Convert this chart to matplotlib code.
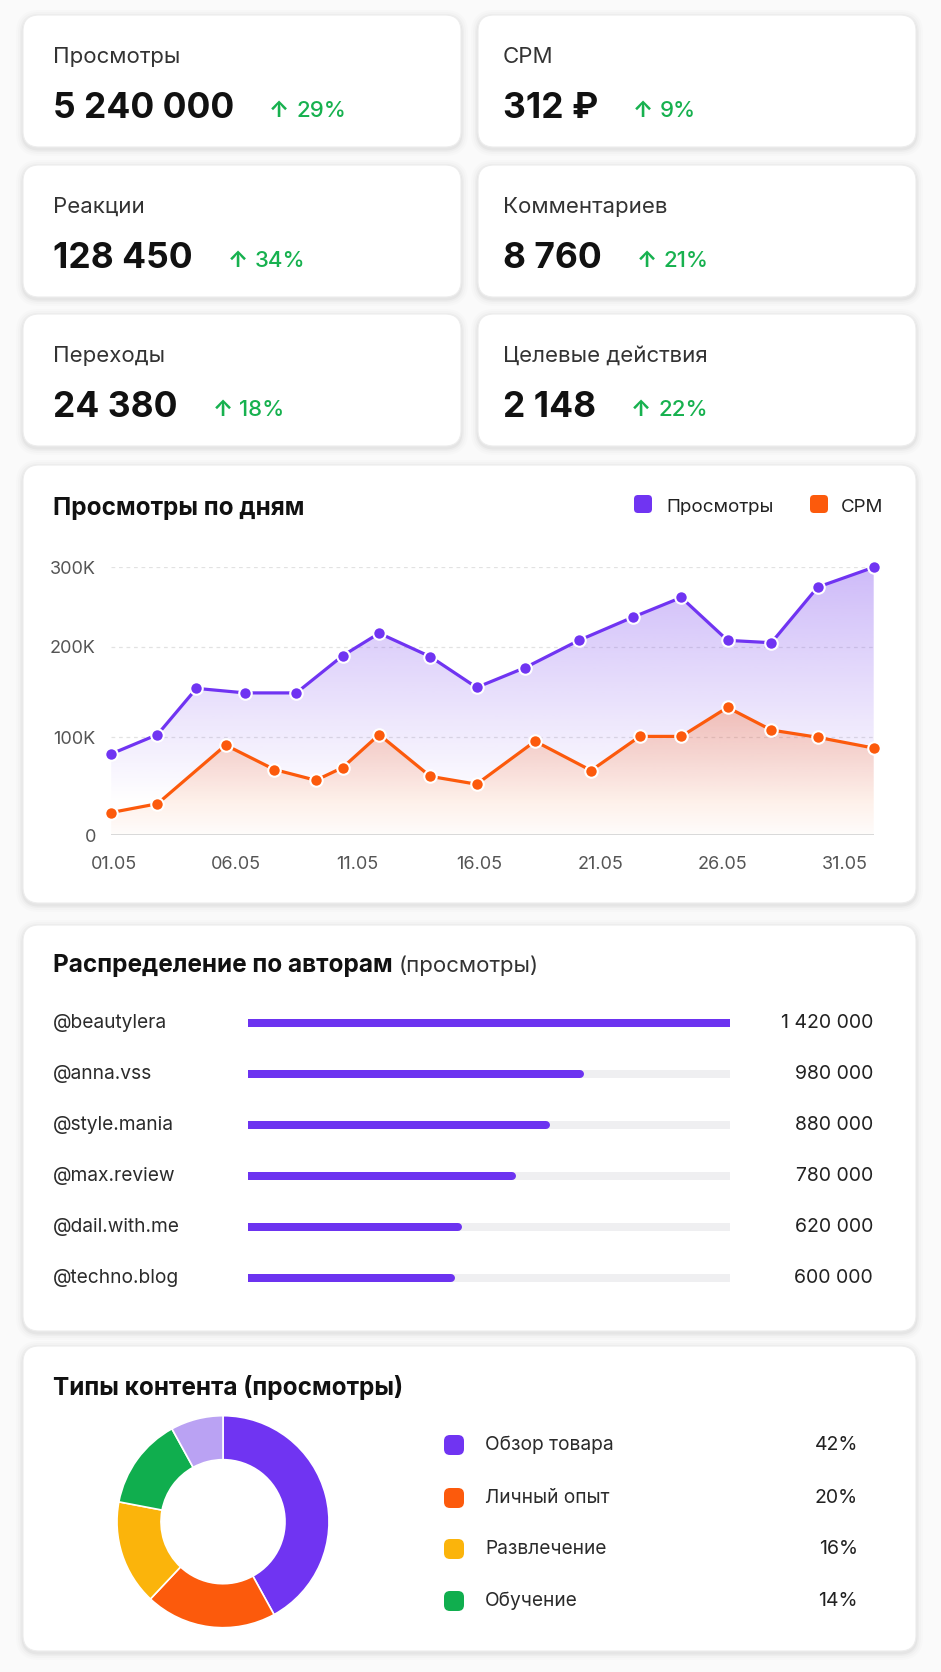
import numpy as np
import matplotlib
matplotlib.use('Agg')
import matplotlib.pyplot as plt
from matplotlib.patches import FancyBboxPatch, Polygon
from matplotlib import transforms

plt.rcParams['font.family'] = ['Inter', 'DejaVu Sans']

W, H = 941, 1672

# KPI cards
kpi_labels = ['Просмотры', 'CPM', 'Реакции', 'Комментариев', 'Переходы', 'Целевые действия']
kpi_values = ['5 240 000', '312 ₽', '128 450', '8 760', '24 380', '2 148']
kpi_changes = ['29%', '9%', '34%', '21%', '18%', '22%']

# views / CPM by day (thousands)
views_days = [0.9, 2.8, 4.4, 6.4, 8.5, 10.4, 11.9, 14.0, 15.9, 17.9, 20.1, 22.3, 24.3, 26.2, 28.0, 29.9, 32.2]
views_k = [83, 103, 154, 149, 149, 190, 217, 189, 155, 177, 208, 237, 262, 208, 205, 275, 300]
cpm_days = [0.9, 2.8, 5.6, 7.6, 9.3, 10.4, 11.9, 14.0, 15.9, 18.3, 20.6, 22.6, 24.3, 26.2, 28.0, 29.9, 32.2]
cpm_k = [23, 32, 92, 67, 56, 69, 103, 60, 52, 96, 66, 101, 101, 133, 108, 100, 89]
tick_days = [1, 6, 11, 16, 21, 26, 31]
tick_labels = ['01.05', '06.05', '11.05', '16.05', '21.05', '26.05', '31.05']
ytick_vals = [0, 100, 200, 300]
ytick_labels = ['0', '100K', '200K', '300K']

# authors
authors = ['@beautylera', '@anna.vss', '@style.mania', '@max.review', '@dail.with.me', '@techno.blog']
author_views = [1420000, 980000, 880000, 780000, 620000, 600000]

# content types
content_types = ['Обзор товара', 'Личный опыт', 'Развлечение', 'Обучение']
content_share = [42, 20, 16, 14]
other_share = 8

PURPLE = '#7034f2'
ORANGE = '#fc5a0c'
GREEN = '#17b14f'
donut_colors = [PURPLE, ORANGE, '#fbb40b', '#10ae4e', '#baa2f3']

fig = plt.figure(figsize=(W / 100, H / 100), dpi=100, facecolor='#fafafa')
bg = fig.add_axes([0, 0, 1, 1])
bg.set_xlim(0, W)
bg.set_ylim(H, 0)
bg.axis('off')


def fig_rect(x0, y0, x1, y1):
    return [x0 / W, 1 - y1 / H, (x1 - x0) / W, (y1 - y0) / H]


def card(x0, y0, x1, y1, r=16):
    w, h = x1 - x0, y1 - y0
    for s, a in [(7, 0.012), (5, 0.016), (3, 0.022), (1.5, 0.03)]:
        bg.add_patch(FancyBboxPatch((x0 - s, y0 - s + 2), w + 2 * s, h + 2 * s,
                                    boxstyle=f'round,pad=0,rounding_size={r + s}',
                                    fc='black', ec='none', alpha=a, zorder=1))
    bg.add_patch(FancyBboxPatch((x0, y0), w, h, boxstyle=f'round,pad=0,rounding_size={r}',
                                fc='white', ec='#ededed', lw=0.8, zorder=2))


# ---- KPI cards
kpi_cols = [(23, 461), (478, 916)]
kpi_rows = [(15, 147), (165, 297), (314, 446)]
text_off = [30, 25]
value_texts = []
for i, (lab, val) in enumerate(zip(kpi_labels, kpi_values)):
    r, c = divmod(i, 2)
    x0, x1 = kpi_cols[c]
    y0, y1 = kpi_rows[r]
    card(x0, y0, x1, y1)
    tx = x0 + text_off[c]
    bg.text(tx, y0 + 48, lab, fontsize=16, color='#333333', va='baseline', zorder=3)
    t = bg.text(tx, y0 + 103, val, fontsize=25.5, fontweight='bold', color='#111111',
                va='baseline', zorder=3)
    value_texts.append(t)

fig.canvas.draw()
renderer = fig.canvas.get_renderer()
for t, ch in zip(value_texts, kpi_changes):
    bb = t.get_window_extent(renderer)
    y = t.get_position()[1] - 1
    bg.text(bb.x1 + 35, y, '↑', fontsize=16, fontweight='bold', color=GREEN, va='baseline', zorder=3)
    bg.text(bb.x1 + 62, y, ch, fontsize=16, fontweight='medium', color=GREEN, va='baseline', zorder=3)

# ---- daily chart card
card(23, 465, 916, 903)
bg.text(53, 515, 'Просмотры по дням', fontsize=17.5, fontweight='bold', color='#111111', zorder=3)
for sx, tx, lab, col in [(634, 666, 'Просмотры', PURPLE), (810, 841, 'CPM', ORANGE)]:
    bg.add_patch(FancyBboxPatch((sx, 495), 18, 18, boxstyle='round,pad=0,rounding_size=4',
                                fc=col, ec='none', zorder=3))
    bg.text(tx, 512, lab, fontsize=13.5, color='#222222', zorder=3)

ax = fig.add_axes(fig_rect(111.2, 567.3, 873.7, 835))
ax.set_zorder(5)
ax.patch.set_alpha(0)
# the reference spaces its gridlines unevenly; reproduce that spacing
grid_px = [0, 97.7, 188.3, 267.7]
ax.set_yscale('function', functions=(lambda v: np.interp(v, ytick_vals, grid_px),
                                     lambda p: np.interp(p, grid_px, ytick_vals)))


def gradient_fill(xs, ys, rgb, stops, alphas, z):
    n = 256
    t = np.linspace(0, 1, n)
    arr = np.zeros((n, 1, 4))
    arr[..., :3] = matplotlib.colors.to_rgb(rgb)
    arr[:, 0, 3] = np.interp(t, stops, alphas)
    im = ax.imshow(arr, extent=[0, 1, 0, 1], transform=ax.transAxes, aspect='auto',
                   origin='lower', zorder=z, interpolation='bilinear')
    verts = np.column_stack([list(xs) + [xs[-1], xs[0]], list(ys) + [0, 0]])
    poly = Polygon(verts, closed=True, transform=ax.transData, fc='none', ec='none')
    ax.add_patch(poly)
    im.set_clip_path(poly)


gradient_fill(views_days, views_k, '#8a5cf0', [0.12, 1.0], [0.0, 0.42], 1)
gradient_fill(cpm_days, cpm_k, '#fb6a25', [0.0, 0.5], [0.02, 0.33], 2)

for v in ytick_vals[1:]:
    ax.axhline(v, color='#e2e2e2', lw=0.9, ls=(0, (3, 3)), zorder=0.5)
ax.axhline(0, color='#cfcfcf', lw=1.1, zorder=3)

ax.plot(views_days, views_k, color=PURPLE, lw=2.3, marker='o', ms=9, mfc=PURPLE,
        mec='white', mew=1.5, clip_on=False, zorder=4)
ax.plot(cpm_days, cpm_k, color=ORANGE, lw=2.3, marker='o', ms=9, mfc=ORANGE,
        mec='white', mew=1.5, clip_on=False, zorder=4)

ax.set_xlim(views_days[0], views_days[-1])
ax.set_ylim(0, 300)
ax.set_xticks(tick_days)
ax.set_xticklabels(tick_labels)
ax.set_yticks(ytick_vals)
ax.set_yticklabels(ytick_labels)
ax.tick_params(length=0, labelsize=13, labelcolor='#555555')
ax.tick_params(axis='y', pad=11)
ax.tick_params(axis='x', pad=15)
for s in ax.spines.values():
    s.set_visible(False)

# ---- authors card
card(23, 925, 916, 1331)
t1 = bg.text(53, 971.7, 'Распределение по авторам', fontsize=17.5, fontweight='bold',
             color='#111111', zorder=3)
fig.canvas.draw()
bb = t1.get_window_extent(fig.canvas.get_renderer())
bg.text(bb.x1 + 6, 971.7, '(просмотры)', fontsize=16, color='#333333', zorder=3)

axb = fig.add_axes(fig_rect(247.5, 997.5, 729.6, 1303.5))
axb.set_zorder(5)
axb.axis('off')
bar_lw = 8 * 0.72
vmax = max(author_views)
for i, v in enumerate(author_views):
    axb.plot([0, vmax], [i, i], color='#efeff1', lw=bar_lw, solid_capstyle='round')
    axb.plot([0, v], [i, i], color='#6c33f0', lw=bar_lw, solid_capstyle='round')
axb.set_xlim(0, vmax)
axb.set_ylim(len(authors) - 0.5, -0.5)

tr = transforms.blended_transform_factory(bg.transData, axb.transData)
for i, (name, v) in enumerate(zip(authors, author_views)):
    bg.text(53, i, name, transform=tr, fontsize=13.8, color='#2b2b2b', va='center', zorder=3)
    bg.text(873, i, f'{v:,}'.replace(',', ' '), transform=tr, fontsize=14, color='#222222',
            va='center', ha='right', zorder=3)

# ---- content types card
card(23, 1346, 916, 1651)
bg.text(53, 1395, 'Типы контента (просмотры)', fontsize=17.5, fontweight='bold',
        color='#111111', zorder=3)

axd = fig.add_axes(fig_rect(117, 1415.7, 329, 1627.7))
axd.set_zorder(5)
axd.pie(content_share + [other_share], colors=donut_colors, startangle=90, counterclock=False,
        radius=1, wedgeprops=dict(width=0.415, edgecolor='white', linewidth=1.2))
axd.set_xlim(-1, 1)
axd.set_ylim(-1, 1)
axd.set_aspect('equal')

leg_y = [1445, 1498, 1549, 1601]
for y, lab, s, col in zip(leg_y, content_types, content_share, donut_colors):
    bg.add_patch(FancyBboxPatch((444, y - 10), 20, 20, boxstyle='round,pad=0,rounding_size=6',
                                fc=col, ec='none', zorder=3))
    bg.text(485, y, lab, fontsize=13.8, color='#2b2b2b', va='center', zorder=3)
    bg.text(858, y, f'{s}%', fontsize=14, color='#222222', va='center', ha='right', zorder=3)

fig.savefig('out.png', dpi=100, facecolor=fig.get_facecolor())
